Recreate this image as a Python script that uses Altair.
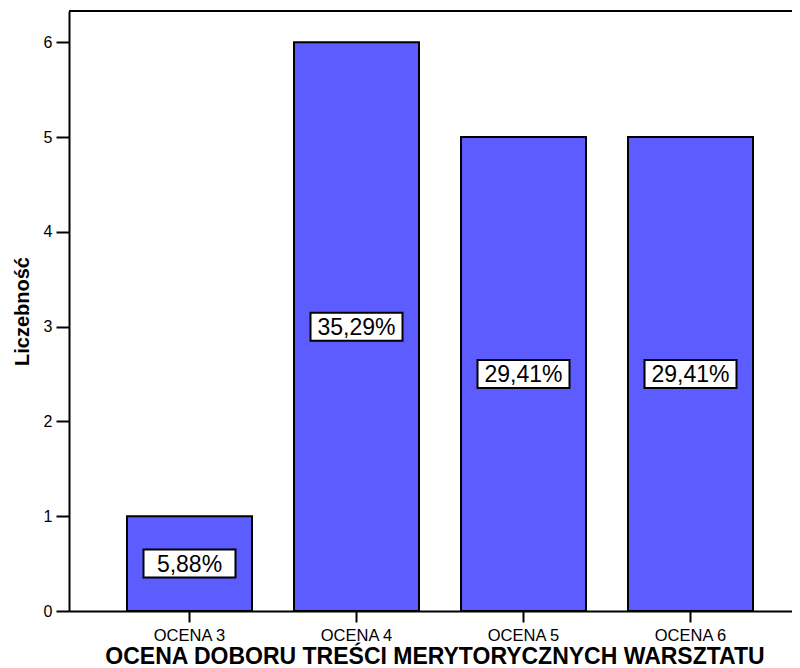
import altair as alt
import pandas as pd

categories = ["OCENA 3", "OCENA 4", "OCENA 5", "OCENA 6"]
counts = [1, 6, 5, 5]
percent_labels = ["5,88%", "35,29%", "29,41%", "29,41%"]
y_ticks = [0, 1, 2, 3, 4, 5, 6]

df = pd.DataFrame({
    "cat": categories,
    "count": counts,
    "label": percent_labels,
})
df["mid"] = df["count"] / 2

FONT = "Liberation Sans"
W, H = 723, 600

xscale = alt.Scale(domain=categories, paddingInner=0.2515, paddingOuter=0.2904, align=0.598)
yscale = alt.Scale(domain=[0, 6.33], nice=False, zero=True)

x_enc = alt.X("cat:N", scale=xscale, sort=categories,
              axis=alt.Axis(title="OCENA DOBORU TREŚCI MERYTORYCZNYCH WARSZTATU",
                            labelAngle=0, labelFont=FONT, labelFontSize=16.5, labelColor="black",
                            labelPadding=5, tickSize=11, tickWidth=2, tickColor="black",
                            domainColor="black", domainWidth=2,
                            titleFont=FONT, titleFontSize=23, titleFontWeight="bold",
                            titleColor="black", titlePadding=2, titleX=W / 2 + 4))
y_enc = alt.Y("count:Q", scale=yscale,
              axis=alt.Axis(title="Liczebność", values=y_ticks, format="d", grid=False,
                            labelFont=FONT, labelFontSize=16, labelColor="black",
                            labelPadding=4, tickSize=13, tickWidth=2, tickColor="black",
                            domainColor="black", domainWidth=2,
                            titleFont=FONT, titleFontSize=20, titleFontWeight="bold",
                            titleColor="black", titlePadding=11))

bars = alt.Chart(df).mark_bar(color="#5c5cff", stroke="black", strokeWidth=2).encode(
    x=x_enc, y=y_enc
)

box_path = "M-1,-0.3043 L1,-0.3043 L1,0.3043 L-1,0.3043 Z"
boxes = alt.Chart(df).mark_point(shape=box_path, size=92 * 92, filled=True,
                                 fill="white", stroke="black", strokeWidth=2,
                                 opacity=1).encode(
    x=alt.X("cat:N", scale=xscale, sort=categories),
    y=alt.Y("mid:Q", scale=yscale),
)

texts = alt.Chart(df).mark_text(font=FONT, fontSize=23, color="black",
                                baseline="middle", align="center", dy=1).encode(
    x=alt.X("cat:N", scale=xscale, sort=categories),
    y=alt.Y("mid:Q", scale=yscale),
    text="label:N",
)

top_line = alt.Chart(df).mark_rule(color="black", strokeWidth=2).encode(
    x=alt.value(0), x2=alt.value(W), y=alt.value(0)
)

chart = alt.layer(bars, boxes, texts, top_line).properties(
    width=W, height=H,
    padding={"left": 61, "top": 3, "right": 0, "bottom": 57},
    autosize=alt.AutoSizeParams(type="none"),
).configure_view(stroke=None).configure(background="white")

chart.save("out.html", embed_options={"renderer": "svg", "actions": False})
